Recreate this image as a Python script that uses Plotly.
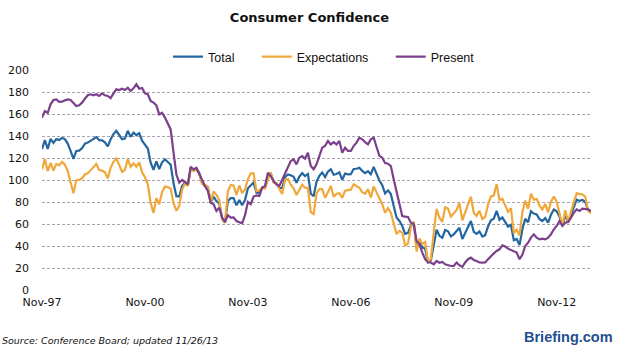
import plotly.graph_objects as go

# Monthly index values, Nov-97 .. Nov-13 (193 months)
total = [
    128.1, 136.2,
    128.3, 137.4, 133.8, 137.2, 136.3, 138.2, 137.2, 133.1, 126.4, 119.3, 126.4, 126.7,
    128.9, 133.1, 134.0, 135.5, 137.7, 139.0, 136.2, 136.0, 134.2, 130.5, 137.0, 141.7,
    144.7, 140.8, 137.1, 137.7, 144.7, 139.2, 143.0, 140.8, 142.5, 135.8, 132.6, 128.6,
    115.7, 109.2, 116.9, 109.9, 116.1, 118.9, 116.3, 114.0, 97.0, 85.3, 84.9, 94.6,
    97.8, 95.0, 110.7, 108.5, 110.3, 106.3, 97.4, 94.5, 93.7, 79.6, 84.9, 80.7,
    78.8, 64.8, 61.4, 81.0, 83.6, 83.5, 77.0, 81.7, 77.0, 81.7, 92.5, 94.8,
    97.7, 88.5, 88.5, 93.0, 93.1, 102.8, 105.7, 98.2, 96.8, 92.9, 92.6, 102.7,
    105.1, 104.4, 103.0, 97.5, 103.1, 106.2, 103.6, 105.5, 87.5, 85.2, 98.3, 103.8,
    106.8, 102.7, 107.5, 109.8, 104.7, 105.4, 107.0, 100.2, 105.9, 105.1, 105.3, 110.0,
    110.2, 111.2, 108.2, 106.3, 108.0, 105.3, 111.9, 105.6, 99.5, 95.2, 87.8, 90.6,
    87.3, 76.4, 65.9, 62.8, 58.1, 51.0, 51.9, 58.5, 61.4, 38.8, 44.7, 38.6,
    37.4, 25.3, 26.9, 40.8, 54.8, 49.3, 47.4, 54.5, 53.4, 48.7, 50.6, 53.6,
    56.5, 46.4, 52.3, 57.7, 62.7, 52.9, 51.0, 53.2, 48.6, 49.9, 57.8, 63.4,
    64.8, 72.0, 63.8, 66.0, 61.7, 57.6, 59.2, 45.2, 46.4, 40.9, 55.2, 64.8,
    61.5, 71.6, 69.5, 68.7, 64.4, 62.7, 65.4, 61.3, 68.4, 73.1, 71.5, 66.7,
    58.4, 68.0, 61.9, 69.0, 76.2, 82.1, 81.0, 81.8, 80.2, 72.4, 70.4,
]

expectations = [
    109.5, 119.0, 108.0, 115.5, 108.5, 114.5, 113.5, 116.5, 114.0, 108.0, 98.0, 88.0,
    100.0, 100.0, 101.5, 105.0, 106.0, 108.5, 111.7, 114.5, 109.0, 108.5, 107.0, 101.5,
    111.0, 116.5, 119.5, 113.8, 107.3, 109.3, 119.0, 112.0, 115.0, 112.0, 116.0, 107.0,
    102.5, 96.0, 79.0,
    70.0, 83.5, 78.0, 89.0, 94.0, 93.5, 92.0, 79.0, 72.0, 76.5, 91.0, 97.0, 94.5,
    109.8, 108.5, 109.0, 105.5, 96.2, 95.5, 94.0, 79.6, 89.5, 86.5, 81.5, 64.0, 61.2,
    89.7, 95.5, 95.0, 86.5, 95.0, 88.0, 91.5, 100.8, 106.0, 106.0, 90.0, 90.5, 93.0,
    92.2, 100.2, 107.1, 97.7, 97.3, 91.8, 87.3, 100.0, 101.0, 95.8, 92.5, 86.4, 91.7,
    95.8, 93.0, 92.7, 70.7, 69.0, 87.7, 91.8, 91.7, 83.9, 88.8, 94.7, 84.8, 87.4, 88.0,
    83.8, 90.2, 90.9, 91.2, 96.1, 94.3, 93.0, 89.0, 87.5, 91.7, 84.2,
    94.2, 89.0, 84.0, 78.0, 70.0, 74.5, 70.3, 60.3, 50.8, 53.7, 52.0, 40.5, 42.2,
    56.7, 62.3, 35.0, 46.8, 41.7, 43.7, 25.5, 28.2, 52.3, 73.7, 65.7, 62.0, 75.2,
    74.0, 66.7, 69.8, 72.7, 79.2, 63.3, 70.5, 77.5, 84.8, 70.0, 67.4, 72.0,
    64.5, 66.5, 77.7, 85.0, 85.8, 96.3, 81.7, 83.0, 76.5, 71.0, 74.4, 51.7, 54.7,
    49.5, 70.7, 81.3, 73.8, 87.6, 82.1, 82.8, 76.7, 73.3, 78.3, 70.5, 80.3, 85.0,
    80.3, 69.3, 58.5, 72.5, 62.0, 71.2, 80.2, 88.0, 87.2, 87.0, 84.8, 71.8, 69.5,
]

present = [
    156.7, 162.7, 161.0, 168.8, 172.7, 173.3, 171.0, 171.2, 172.4, 173.3, 172.7, 170.3,
    167.3, 167.9, 170.3, 173.9, 177.0, 177.9, 177.0, 177.9, 176.4, 178.8, 177.0, 176.4,
    174.5, 178.8, 182.4, 181.8, 183.0, 181.8, 183.9, 180.9, 183.3, 187.0, 183.0, 183.6,
    178.8, 178.0, 171.8,
    170.3, 167.9, 159.7, 161.2, 156.7, 152.0, 146.0, 124.8, 105.0, 97.6, 100.0, 98.2,
    96.0, 112.0, 109.7, 111.2, 105.2, 99.0, 94.5, 90.0, 79.4, 77.9, 71.8, 74.8, 65.8,
    61.8, 68.0, 65.8, 66.0, 62.7, 61.8, 60.6, 68.0, 80.0, 78.0, 85.0, 86.0, 85.5, 93.0,
    94.5, 106.7, 103.6, 99.0, 96.0, 94.5, 100.6, 106.7, 111.2, 117.3, 118.8, 114.2,
    120.3, 121.8, 119.4, 124.8, 112.7, 109.7, 114.2, 121.8, 129.4, 130.9, 135.5, 132.4,
    134.5, 132.4, 135.5, 124.8, 129.4, 126.4, 126.4, 130.9, 134.0, 138.5, 137.0, 134.5,
    132.4, 137.0,
    138.5, 130.0, 122.0, 120.3, 115.5, 114.8, 112.7, 100.6, 88.5, 76.4, 67.3, 66.7,
    66.4, 61.2, 60.0, 44.5, 41.5, 34.0, 28.0, 25.0, 25.0, 23.4, 26.4, 24.8, 25.5,
    23.4, 22.5, 21.8, 21.8, 25.0, 22.5, 21.0, 25.0, 28.0, 29.4, 27.3, 26.4, 25.0,
    24.8, 25.0, 27.9, 31.0, 33.3, 35.5, 37.0, 40.6, 39.5, 37.6, 36.4, 35.5, 34.0,
    28.0, 32.0, 40.0, 43.0, 47.6, 50.6, 47.6, 46.0, 46.7, 46.0, 47.6, 50.6, 55.2,
    58.2, 62.7, 58.2, 61.2, 61.8, 65.8, 70.3, 73.3, 71.8, 74.0, 73.3, 73.3, 71.8,
]

tick_labels = ["Nov-97", "Nov-00", "Nov-03", "Nov-06", "Nov-09", "Nov-12"]
months = list(range(len(total)))
tick_positions = [36 * k for k in range(len(tick_labels))]

NB = "\u00a0"
fig = go.Figure()
series = [
    ("Total" + NB * 5, total, "#24669F"),
    ("Expectations" + NB * 5, expectations, "#F0A83A"),
    ("Present", present, "#7B3F8B"),
]
for name, vals, col in series:
    fig.add_trace(go.Scatter(x=months, y=vals, mode="lines", name=name,
                             line=dict(color=col, width=2.2)))

fig.update_layout(
    width=619, height=354,
    margin=dict(l=42, r=28, t=70, b=64, autoexpand=False),
    paper_bgcolor="white", plot_bgcolor="white",
    font=dict(family="DejaVu Sans", size=11, color="#111111"),
    title=dict(text="<b>Consumer Confidence</b>", x=0.5, xref="container",
               y=1 - 17 / 354, yref="container", xanchor="center", yanchor="middle",
               font=dict(family="DejaVu Sans", size=13, color="#111111")),
    showlegend=True,
    legend=dict(orientation="h", xref="container", yref="container",
                x=168 / 619, y=1 - 57 / 354, xanchor="left", yanchor="middle",
                font=dict(family="Liberation Sans", size=12.5, color="#111111"),
                itemwidth=30, bgcolor="rgba(0,0,0,0)"),
    xaxis=dict(range=[0, 192], tickmode="array", tickvals=tick_positions,
               ticktext=tick_labels, showgrid=False, zeroline=False,
               showline=False, ticks="", ticklabelstandoff=4, tickfont=dict(size=11)),
    yaxis=dict(range=[0, 200], dtick=20, showgrid=True, gridcolor="#A8A4AC",
               griddash="3px,2px", gridwidth=1, zeroline=False, showline=False,
               ticks="", ticklabelstandoff=12, tickfont=dict(size=11)),
)

fig.add_annotation(text="<i>Source: Conference Board; updated 11/26/13</i>",
                   xref="paper", yref="paper", x=(0 - 42) / 550, y=(290 - 340) / 220,
                   xanchor="left", yanchor="middle", showarrow=False,
                   font=dict(family="DejaVu Sans", size=9.5, color="#111111"))
fig.add_annotation(text="<b>Briefing.com</b>",
                   xref="paper", yref="paper", x=(615 - 42) / 549, y=(290 - 337) / 220,
                   xanchor="right", yanchor="middle", showarrow=False,
                   font=dict(family="Liberation Sans", size=14.5, color="#1F4F8F"))

fig.write_html("out.html")
